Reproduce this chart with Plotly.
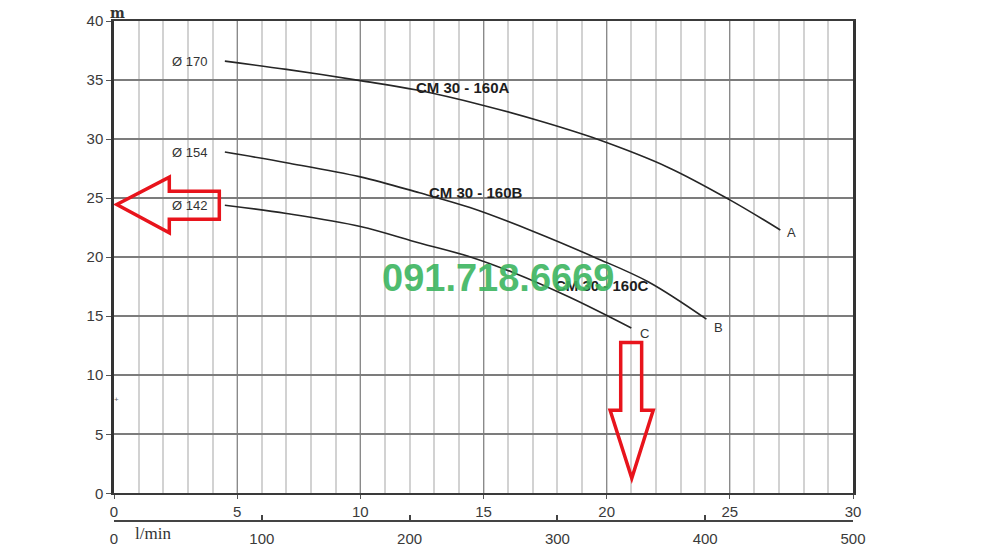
import plotly.graph_objects as go

# ---- data ----
flow_A = [4.5, 7.0, 10.0, 12.3, 15.0, 17.5, 19.6, 22.5, 25.0, 27.05]
head_A = [36.6, 35.9, 34.95, 34.15, 32.85, 31.4, 30.0, 27.6, 24.85, 22.3]

flow_B = [4.5, 7.0, 10.0, 12.4, 14.45, 17.0, 19.5, 21.7, 24.05]
head_B = [28.9, 28.0, 26.8, 25.45, 24.2, 22.2, 20.0, 17.9, 14.75]

flow_C = [4.5, 7.0, 10.0, 12.4, 14.5, 16.2, 18.5, 21.0]
head_C = [24.4, 23.7, 22.6, 21.2, 20.0, 18.7, 16.6, 14.0]

diam_labels = ["Ø 170", "Ø 154", "Ø 142"]
model_labels = ["CM 30 - 160A", "CM 30 - 160B", "CM 30 - 160C"]
end_labels = ["A", "B", "C"]

x_ticks = [0, 5, 10, 15, 20, 25, 30]
y_ticks = [0, 5, 10, 15, 20, 25, 30, 35, 40]
lmin_ticks = [0, 100, 200, 300, 400, 500]

watermark = "091.718.6669"

# ---- figure ----
fig = go.Figure()
line_style = dict(color="#262626", width=1.6, shape="spline", smoothing=1.0)
for fx, hy in [(flow_A, head_A), (flow_B, head_B), (flow_C, head_C)]:
    fig.add_trace(go.Scatter(x=fx, y=hy, mode="lines", line=line_style,
                             hoverinfo="skip", showlegend=False))

# dummy trace on the l/min axis so it is drawn
fig.add_trace(go.Scatter(x=[0, 500], y=[None, None], xaxis="x2", yaxis="y",
                         mode="lines", showlegend=False, hoverinfo="skip"))

tick_font = dict(family="Liberation Sans, Arial, sans-serif", size=15, color="#3a3a3a")
lab_font = dict(family="Liberation Sans, Arial, sans-serif", size=13, color="#333333")
bold_font = dict(family="Liberation Sans, Arial, sans-serif", size=15, color="#1e1e1e")

ann = []
for lab, hy in zip(diam_labels, [head_A[0], head_B[0], head_C[0]]):
    ann.append(dict(x=3.06, y=hy, text=lab, showarrow=False, font=lab_font,
                    xref="x", yref="y"))
for lab, (px, py) in zip(model_labels, [(14.15, 34.37), (14.69, 25.5), (19.8, 17.6)]):
    ann.append(dict(x=px, y=py, text="<b>%s</b>" % lab, showarrow=False,
                    font=bold_font, xref="x", yref="y"))
for lab, (px, py) in zip(end_labels, [(27.5, 22.06), (24.53, 14.08), (21.53, 13.52)]):
    ann.append(dict(x=px, y=py, text=lab, showarrow=False, font=lab_font,
                    xref="x", yref="y"))
# axis unit titles
ann.append(dict(x=0.15, y=1, text="<b>m</b>", showarrow=False, xref="x", yref="paper",
                yanchor="bottom", yshift=-2,
                font=dict(family="DejaVu Serif, Liberation Serif, serif", size=14, color="#333")))
ann.append(dict(x=1.6, y=0, text="l/min", showarrow=False, xref="x", yref="paper",
                yanchor="middle", yshift=-12,
                font=dict(family="Liberation Serif, DejaVu Serif, serif", size=17, color="#333")))
ann.append(dict(x=0.12, y=7.97, text="+", showarrow=False, xref="x", yref="y",
                font=dict(family="Liberation Sans, Arial", size=8, color="#666")))
# watermark
ann.append(dict(x=15.59, y=18.2, text="<b>%s</b>" % watermark, showarrow=False,
                xref="x", yref="y", opacity=0.9,
                font=dict(family="Liberation Sans Narrow, Arial Narrow, Liberation Sans, sans-serif",
                          size=38, color="#3db560")))

# red outline arrows (annotation shapes)
left_arrow = [(0.11, 24.46), (2.245, 26.77), (2.245, 25.59), (4.275, 25.59),
              (4.275, 23.2), (2.245, 23.2), (2.245, 22.07)]
down_arrow = [(20.57, 12.77), (21.42, 12.77), (21.42, 7.04), (21.89, 7.04),
              (21.02, 1.27), (20.14, 7.04), (20.57, 7.04)]

def to_path(pts):
    return "M " + " L ".join("%g,%g" % p for p in pts) + " Z"

shapes = []
for pts in (left_arrow, down_arrow):
    shapes.append(dict(type="path", path=to_path(pts), xref="x", yref="y",
                       line=dict(color="#e8141c", width=3.5), fillcolor="rgba(0,0,0,0)",
                       layer="above"))

fig.update_layout(
    width=992, height=543,
    margin=dict(l=106, r=147, t=13, b=30),
    paper_bgcolor="white", plot_bgcolor="white",
    showlegend=False,
    annotations=ann,
    shapes=shapes,
    xaxis=dict(range=[0, 30], tickvals=x_ticks, ticks="outside", ticklen=4,
               tickcolor="#555", tickfont=tick_font, ticklabelstandoff=0,
               showgrid=True, gridcolor="#8a8a8a", gridwidth=1.3,
               minor=dict(dtick=1, showgrid=True, gridcolor="#d2d2d2", gridwidth=1.5),
               showline=True, linecolor="#3a3a3a", linewidth=2, mirror=True,
               zeroline=False, anchor="y", fixedrange=True, automargin=False),
    xaxis2=dict(range=[0, 500], tickvals=lmin_ticks, overlaying="x", anchor="free",
                position=0, side="bottom", ticks="inside", ticklen=5, tickwidth=2,
                tickcolor="#444", tickfont=tick_font, ticklabelstandoff=4,
                showline=True, linecolor="#444", linewidth=2, showgrid=False,
                zeroline=False, automargin=False),
    yaxis=dict(range=[0, 40], tickvals=y_ticks, domain=[0.0554, 1],
               ticks="outside", ticklen=5, tickcolor="#555", tickfont=tick_font,
               showgrid=True, gridcolor="#7c7c7c", gridwidth=1.5,
               showline=True, linecolor="#333", linewidth=2.5, mirror=True,
               zeroline=False, fixedrange=True, automargin=False),
)

fig.write_html("out.html")
